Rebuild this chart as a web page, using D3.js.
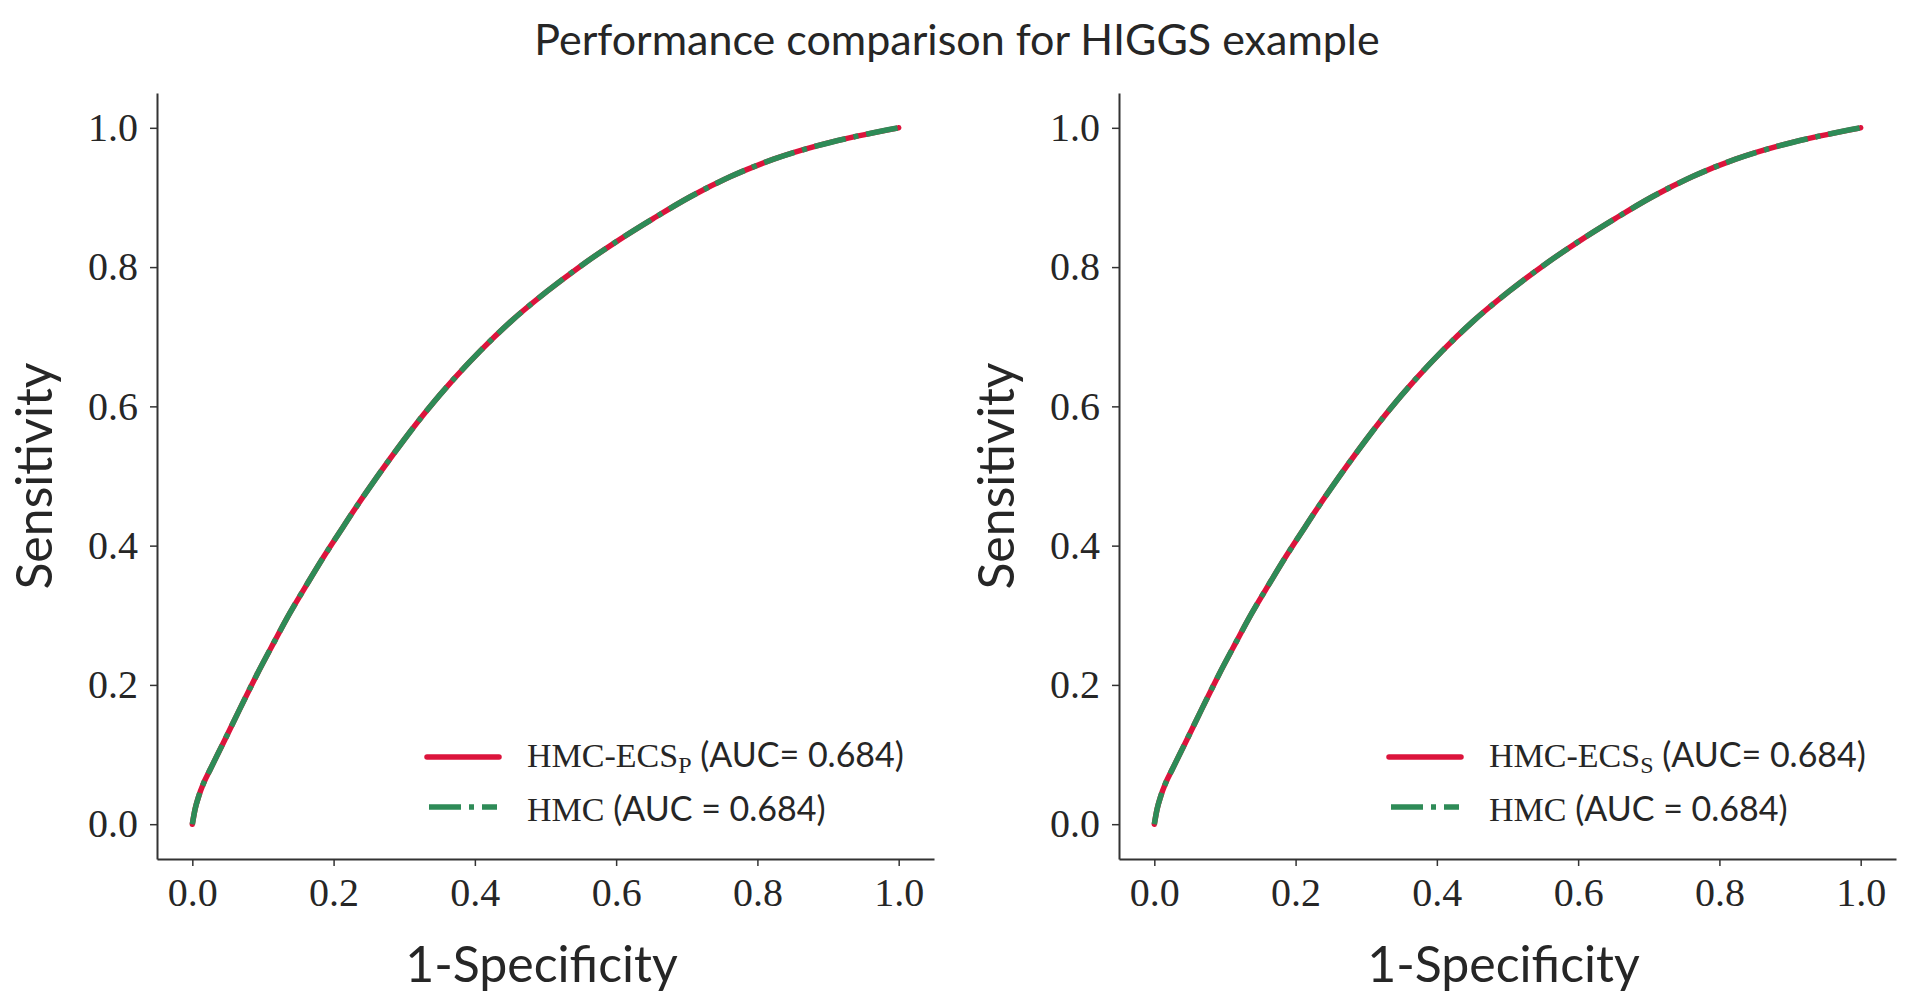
<!DOCTYPE html>
<html>
<head>
<meta charset="utf-8">
<script src="https://cdn.jsdelivr.net/npm/d3@7"></script>
<style>
  html, body { margin: 0; padding: 0; background: #fff; }
  #svg-container { width: 1920px; height: 1003px; }
  .tick text { font-family: "Liberation Serif", "DejaVu Serif", serif; fill: #262626; }
  .tick line, .domain { stroke: #333; }
</style>
</head>
<body>
<div id="svg-container"></div>
<script>
// data
const fpr = [0, 0.004, 0.009, 0.016, 0.026, 0.044, 0.068, 0.091, 0.115, 0.138, 0.162, 0.186, 0.209, 0.233, 0.261,
  0.299, 0.332, 0.37, 0.408, 0.45, 0.502, 0.549, 0.601, 0.653, 0.705, 0.762, 0.823, 0.884, 0.941, 1.0];
const tprEcs = [0, 0.022, 0.040, 0.059, 0.080, 0.117, 0.167, 0.214, 0.26, 0.303, 0.344, 0.384, 0.42, 0.457, 0.498,
  0.551, 0.594, 0.639, 0.68, 0.721, 0.765, 0.801, 0.837, 0.87, 0.901, 0.93, 0.955, 0.974, 0.988, 1.0];
const tprHmc = [0, 0.022, 0.040, 0.059, 0.080, 0.117, 0.167, 0.214, 0.26, 0.303, 0.344, 0.384, 0.42, 0.457, 0.498,
  0.551, 0.594, 0.639, 0.68, 0.721, 0.765, 0.801, 0.837, 0.87, 0.901, 0.93, 0.955, 0.974, 0.988, 1.0];

const panelSubs = ["P", "S"]; // HMC-ECS_P (left), HMC-ECS_S (right)
const aucEcs = ["0.684", "0.684"];
const aucHmc = ["0.684", "0.684"];
const tickValues = [0, 0.2, 0.4, 0.6, 0.8, 1.0];

const title = "Performance comparison for HIGGS example";
const xLabel = "1-Specificity";
const yLabel = "Sensitivity";

const width = 1920;
const height = 1003;
const sansFont = "Lato, 'Open Sans', 'DejaVu Sans', sans-serif";
const serifFont = "'Liberation Serif', 'DejaVu Serif', serif";

const svg = d3.select("#svg-container").append("svg")
  .attr("width", width)
  .attr("height", height);

svg.append("text")
  .attr("x", 957)
  .attr("y", 55)
  .attr("text-anchor", "middle")
  .attr("font-family", sansFont)
  .attr("font-size", 43)
  .attr("fill", "#262626")
  .text(title);

// panel spine positions
const panelLeft = [157, 1119];
const panelW = 777;
const plotTop = 93, plotBottom = 859;

const rocData = fpr.map((x, i) => ({ x: x, ecs: tprEcs[i], hmc: tprHmc[i] }));

panelLeft.forEach((left, p) => {
  const xScale = d3.scaleLinear().domain([-0.05, 1.05]).range([left, left + panelW]);
  const yScale = d3.scaleLinear().domain([-0.05, 1.05]).range([plotBottom, plotTop]);

  const g = svg.append("g");

  // axes (only left / bottom, like despine)
  const xAxis = d3.axisBottom(xScale).tickValues(tickValues).tickFormat(d3.format(".1f"))
    .tickSize(7).tickPadding(12).tickSizeOuter(0);
  const yAxis = d3.axisLeft(yScale).tickValues(tickValues).tickFormat(d3.format(".1f"))
    .tickSize(7).tickPadding(12).tickSizeOuter(0);

  g.append("g")
    .attr("transform", `translate(0,${plotBottom})`)
    .call(xAxis)
    .call((a) => a.select(".domain").attr("stroke-width", 2))
    .call((a) => a.selectAll(".tick line").attr("stroke-width", 1.5))
    .call((a) => a.selectAll(".tick text").attr("font-size", 40).attr("font-family", serifFont));

  g.append("g")
    .attr("transform", `translate(${left},0)`)
    .call(yAxis)
    .call((a) => a.select(".domain").attr("stroke-width", 2))
    .call((a) => a.selectAll(".tick line").attr("stroke-width", 1.5))
    .call((a) => a.selectAll(".tick text").attr("font-size", 40).attr("font-family", serifFont));

  // axis labels
  g.append("text")
    .attr("x", xScale(0.5) - 4)
    .attr("y", 982)
    .attr("text-anchor", "middle")
    .attr("font-family", sansFont)
    .attr("font-size", 50)
    .attr("fill", "#262626")
    .text(xLabel);

  g.append("text")
    .attr("transform", `translate(${left - 105},${(plotTop + plotBottom) / 2}) rotate(-90)`)
    .attr("text-anchor", "middle")
    .attr("font-family", sansFont)
    .attr("font-size", 50)
    .attr("fill", "#262626")
    .text(yLabel);

  // curves
  const lineEcs = d3.line().curve(d3.curveMonotoneX)
    .x((d) => xScale(d.x)).y((d) => yScale(d.ecs));
  const lineHmc = d3.line().curve(d3.curveMonotoneX)
    .x((d) => xScale(d.x)).y((d) => yScale(d.hmc));

  g.append("path")
    .datum(rocData)
    .attr("d", lineEcs)
    .attr("fill", "none")
    .attr("stroke", "#DC143C")
    .attr("stroke-width", 5.5)
    .attr("stroke-linecap", "round");

  g.append("path")
    .datum(rocData)
    .attr("d", lineHmc)
    .attr("fill", "none")
    .attr("stroke", "#2E8B57")
    .attr("stroke-width", 5.5)
    .attr("stroke-dasharray", "32,8,5,8");

  // legend
  const lg = g.append("g").attr("transform", `translate(${left + 270},0)`);
  lg.append("line")
    .attr("x1", 0).attr("x2", 72).attr("y1", 757).attr("y2", 757)
    .attr("stroke", "#DC143C").attr("stroke-width", 5.5).attr("stroke-linecap", "round");
  lg.append("line")
    .attr("x1", 2).attr("x2", 70).attr("y1", 807).attr("y2", 807)
    .attr("stroke", "#2E8B57").attr("stroke-width", 5.5).attr("stroke-dasharray", "32,8,5,8");

  const t1 = lg.append("text").attr("x", 100).attr("y", 767).attr("font-size", 34).attr("fill", "#262626");
  t1.append("tspan").attr("font-family", serifFont).text("HMC-ECS");
  t1.append("tspan").attr("font-family", serifFont).attr("font-size", 24).attr("dy", 6).text(panelSubs[p]);
  t1.append("tspan").attr("font-family", sansFont).attr("dy", -6).text(` (AUC= ${aucEcs[p]})`);

  const t2 = lg.append("text").attr("x", 100).attr("y", 821).attr("font-size", 34).attr("fill", "#262626");
  t2.append("tspan").attr("font-family", serifFont).text("HMC");
  t2.append("tspan").attr("font-family", sansFont).text(` (AUC = ${aucHmc[p]})`);
});
</script>
</body>
</html>
